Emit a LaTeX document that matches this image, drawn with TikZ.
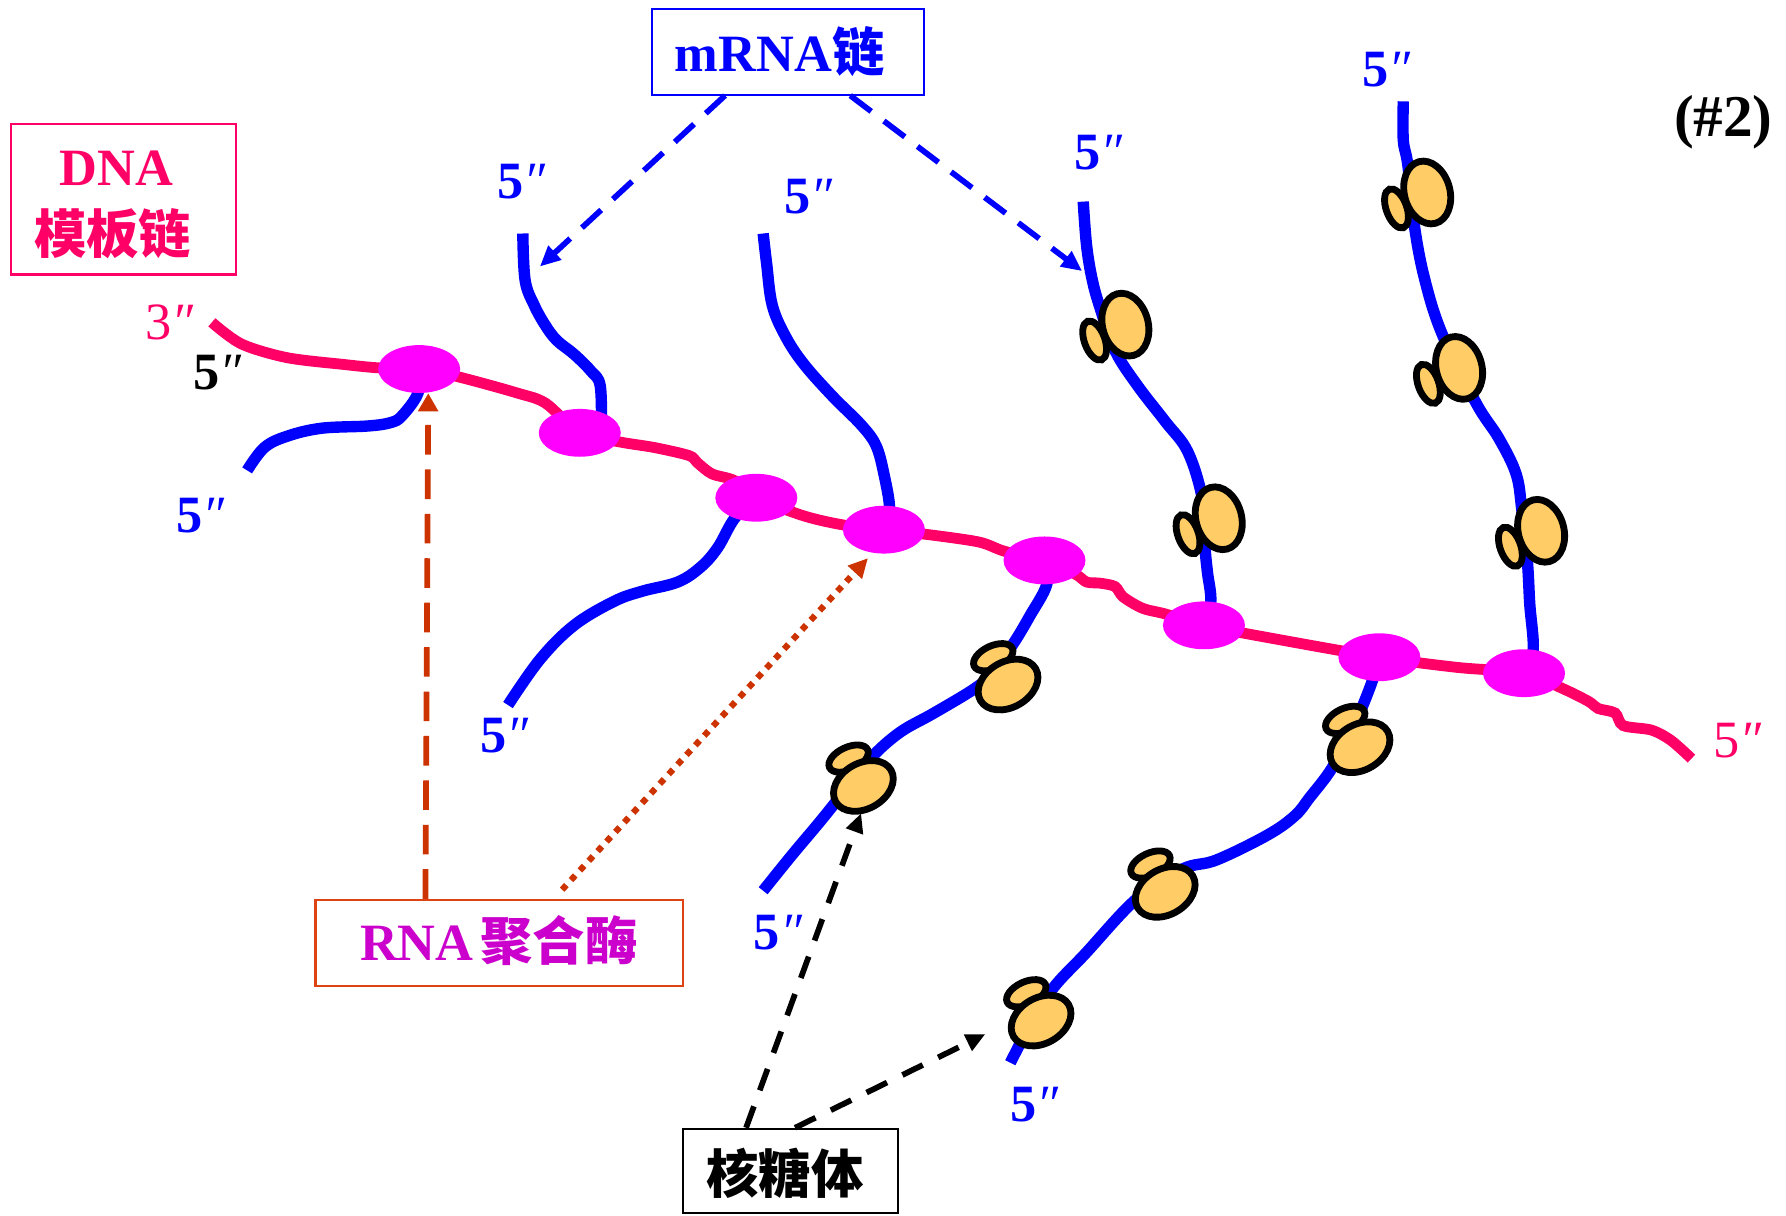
\documentclass[tikz,border=0pt]{standalone}
\usepackage{fontspec}
\setmainfont{Liberation Serif}
\newfontfamily\cjk{Noto Sans CJK SC}
\usetikzlibrary{arrows.meta,backgrounds,shapes.geometric}

\definecolor{dnared}{HTML}{FF0066}
\definecolor{rnablue}{HTML}{0000FF}
\definecolor{polmag}{HTML}{FF00FF}
\definecolor{ribofill}{HTML}{FFCC66}
\definecolor{enzred}{HTML}{CC3300}
\definecolor{enzbox}{HTML}{DD4411}
\definecolor{enztext}{HTML}{CC00CC}

% a 5'' / 3'' strand-end mark: upright digit, slanted double prime
\newcommand{\strandtip}[1]{#1{\mdseries\itshape ″}}

\tikzset{
  pol/.style={ellipse, fill=polmag, minimum width=72pt, minimum height=42pt, inner sep=0pt},
  mrna/.style={draw=rnablue, line width=10pt},
  dna/.style={draw=dnared, line width=9.5pt},
  ribobody/.style={draw=black, line width=6pt, fill=ribofill},
  lbl/.style={inner sep=0pt, font=\fontsize{46}{50}\selectfont\bfseries},
  lblthin/.style={inner sep=0pt, font=\fontsize{46}{50}\selectfont},
  zh/.style={inner sep=0pt, font=\fontsize{46}{50}\selectfont\cjk\bfseries},
  frame/.style={inner sep=0pt, line width=1.8pt},
  bluearrow/.style={draw=rnablue, line width=5pt, dash pattern=on 23pt off 14pt,
    -{Triangle[length=18pt,width=16pt]}},
  enzdash/.style={draw=enzred, line width=5pt, dash pattern=on 26pt off 13pt,
    -{Triangle[length=16pt,width=17pt]}},
  enzdot/.style={draw=enzred, line width=5.5pt, dash pattern=on 5.5pt off 6pt,
    -{Triangle[length=17pt,width=16pt]}},
  blackarrow/.style={draw=black, line width=5pt, dash pattern=on 20pt off 15pt,
    -{Triangle[length=17pt,width=15pt]}},
  % ribosome on an upright mRNA strand
  riboV/.pic={
    \path[ribobody, shift={(-27,14)}, rotate=20] (0,0) ellipse [x radius=9, y radius=18];
    \path[ribobody, rotate=15] (0,0) ellipse [x radius=20, y radius=28];
  },
  % ribosome on a slanted mRNA strand
  riboD/.pic={
    \path[ribobody, shift={(-13,-24)}, rotate=25] (0,0) ellipse [x radius=18.5, y radius=10];
    \path[ribobody, rotate=30] (0,0) ellipse [x radius=28, y radius=20];
  }
}

\begin{document}
\begin{tikzpicture}[x=1pt,y=-1pt]
\useasboundingbox (0,0) rectangle (1568,1067);

% RNA polymerases along the template strand
\node[pol] (p1) at (368,324) {};
\node[pol] (p2) at (509,380) {};
\node[pol] (p3) at (664,437) {};
\node[pol] (p4) at (776,465) {};
\node[pol] (p5) at (917,492) {};
\node[pol] (p6) at (1057,549) {};
\node[pol] (p7) at (1211,577) {};
\node[pol] (p8) at (1338,591) {};

\begin{pgfonlayer}{background}
  \fill[white] (0,0) rectangle (1568,1067);
  % growing mRNA strands
  \draw[mrna] plot[smooth, tension=0.6] coordinates {(p1.center) (367,345) (353,365) (343,371) (323,374) (282,376) (252,383) (232,393) (217,413)};
  \draw[mrna] plot[smooth, tension=0.6] coordinates {(528,378) (527,339) (519,326) (504,311) (489,299) (479,286) (469,268) (461,246) (459,205)};
  \draw[mrna] plot[smooth, tension=0.6] coordinates {(p3.center) (645,455) (630,481) (615,498) (595,511) (564,519) (539,528) (504,549) (474,579) (446,619)};
  \draw[mrna] plot[smooth, tension=0.6] coordinates {(p4.center) (781,447) (776,416) (769,391) (756,373) (731,348) (706,320) (690,296) (678,268) (673,231) (670,205)};
  \draw[mrna] plot[smooth, tension=0.6] coordinates {(p5.center) (919,513) (904,541) (889,566) (870,592) (855,605) (820,626) (790,643) (765,665) (745,690) (721,720) (695,751) (670,782)};
  \draw[mrna] plot[smooth, tension=0.6] coordinates {(p6.center) (1063,528) (1060,502) (1058,481) (1056,440) (1043,397) (1023,370) (999,339) (979,308) (966,271) (959,246) (954,216) (951,177)};
  \draw[mrna] plot[smooth, tension=0.6] coordinates {(p7.center) (1204,600) (1192,630) (1180,655) (1167,678) (1150,700) (1137,716) (1113,733) (1068,755) (1038,763) (998,789) (954,836) (919,875) (887,933)};
  \draw[mrna] plot[smooth, tension=0.6] coordinates {(p8.center) (1346,571) (1343,530) (1341,494) (1336,447) (1331,416) (1316,385) (1296,354) (1266,293) (1251,246) (1242,200) (1236,145) (1232,123) (1232,89)};
  % DNA template strand
  \draw[dna] plot[smooth, tension=0.5] coordinates {(186,283) (212,302) (252,314) (302,320) (333,323) (p1.center) (403,331) (454,345) (479,354) (p2.center) (544,388) (575,393) (605,400) (612,406) (625,416) (645,422) (p3.center) (706,453) (741,461) (p4.center) (820,470) (860,476) (882,484) (p5.center) (944,504) (954,511) (966,512) (979,515) (986,524) (1003,534) (1023,539) (p6.center) (1120,561) (p7.center) (1280,586) (p8.center) (1373,605) (1395,616) (1403,622) (1418,626) (1425,637) (1450,641) (1467,650) (1485,666)};
\end{pgfonlayer}

% ribosomes on the mRNA strands
\pic at (988,285) {riboV};
\pic at (1070,455) {riboV};
\pic at (1253,169) {riboV};
\pic at (1281,323) {riboV};
\pic at (1353,466) {riboV};
\pic at (885,601) {riboD};
\pic at (758,690) {riboD};
\pic at (1194,656) {riboD};
\pic at (1023,783) {riboD};
\pic at (914,896) {riboD};

% strand-end labels
\node[lbl, text=rnablue] (e1) at (458,159) {\strandtip{5}};
\node[lbl, text=rnablue] (e2) at (710,173) {\strandtip{5}};
\node[lbl, text=rnablue] (e3) at (964,134) {\strandtip{5}};
\node[lbl, text=rnablue] (e4) at (1217,61) {\strandtip{5}};
\node[lbl, text=rnablue] (e5) at (176,453) {\strandtip{5}};
\node[lbl, text=rnablue] (e6) at (443,646) {\strandtip{5}};
\node[lbl, text=rnablue] (e7) at (683,819) {\strandtip{5}};
\node[lbl, text=rnablue] (e8) at (908,970) {\strandtip{5}};
\node[lbl, text=black] (e9) at (191,327) {\strandtip{5}};
\node[lblthin, text=dnared] (e10) at (149,283) {\strandtip{3}};
\node[lblthin, text=dnared] (e11) at (1525,650) {\strandtip{5}};

% figure number
\node[inner sep=0pt, font=\fontsize{52}{56}\selectfont\bfseries] (num) at (1513,107) {(\#2)};

% label boxes
\node[frame, draw=rnablue, minimum width=239pt, minimum height=75pt] (mbox) at (691.5,45.5) {};
\node[lbl, text=rnablue] (mtext) at (684.5,45.5) {mRNA{\cjk 链}};

\node[frame, draw=dnared, minimum width=197pt, minimum height=132pt] (dbox) at (108.5,175) {};
\node[lbl, text=dnared] (dtext1) at (102,148) {DNA};
\node[zh, text=dnared] (dtext2) at (99,205) {模板链};

\node[frame, draw=enzbox, minimum width=323pt, minimum height=76pt] (rbox) at (438.5,828) {};
\node[lbl, text=enztext] (rtext) at (438,826) {RNA\hspace{6pt}{\cjk 聚合酶}};

\node[frame, draw=black, minimum width=188pt, minimum height=74pt] (kbox) at (694,1028) {};
\node[zh, text=black] (ktext) at (689,1030) {核糖体};

% pointer targets on the strands
\coordinate (tb) at (474,234);
\coordinate (tg) at (950,238);
\coordinate (te) at (756,714);
\coordinate (tf) at (865,908);

% pointers
\draw[bluearrow] ([xshift=-55pt]mbox.south) -- (tb);
\draw[bluearrow] ([xshift=55pt]mbox.south) -- (tg);
\draw[enzdash] ([xshift=-65pt]rbox.north) -- ([xshift=8pt]p1.south);
\draw[enzdot] ([xshift=55pt,yshift=8pt]rbox.north) -- ([xshift=-14pt,yshift=-25pt]p4.center);
\draw[blackarrow] ([xshift=-39pt]kbox.north) -- (te);
\draw[blackarrow] ([xshift=4pt]kbox.north) -- (tf);
\end{tikzpicture}
\end{document}
